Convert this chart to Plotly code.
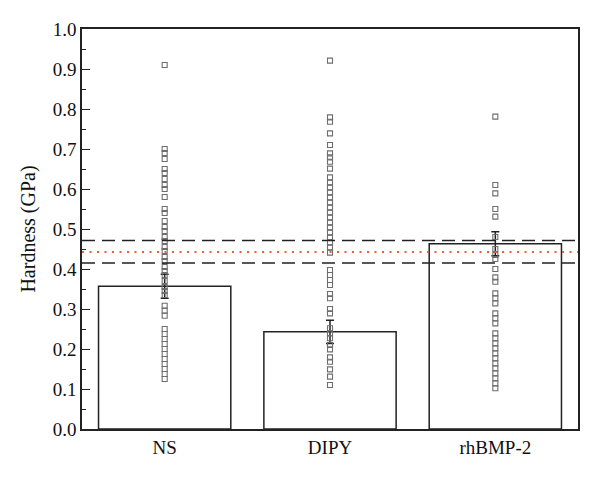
import plotly.graph_objects as go

categories = ["NS", "DIPY", "rhBMP-2"]
bar_means = [0.357, 0.243, 0.463]
bar_errors = [0.030, 0.029, 0.030]

ns_points = [0.91, 0.70, 0.69, 0.675, 0.65, 0.64, 0.625, 0.61, 0.60, 0.58, 0.55, 0.54,
             0.52, 0.505, 0.495, 0.48, 0.47, 0.455, 0.445, 0.43, 0.42, 0.405, 0.395, 0.385,
             0.37, 0.355, 0.345, 0.335, 0.308, 0.296, 0.283,
             0.25, 0.2375, 0.225, 0.2125, 0.20, 0.1875, 0.175, 0.1625, 0.15, 0.1375, 0.125]
dipy_points = [0.921, 0.779, 0.768, 0.739, 0.71, 0.689, 0.679, 0.668, 0.651,
               0.629, 0.616, 0.604, 0.591, 0.579, 0.566, 0.554, 0.541, 0.529, 0.516,
               0.504, 0.491, 0.479, 0.466, 0.454, 0.441,
               0.3975, 0.385, 0.3725, 0.36, 0.3375, 0.327, 0.30, 0.289,
               0.252, 0.239, 0.227, 0.21, 0.199, 0.179, 0.168, 0.149, 0.131, 0.11]
rhbmp_points = [0.781, 0.61, 0.589, 0.55, 0.531, 0.48, 0.45, 0.435, 0.425, 0.40,
                0.379, 0.368, 0.339, 0.327, 0.314, 0.289, 0.277, 0.264,
                0.239, 0.227, 0.214, 0.202, 0.189, 0.177, 0.164, 0.152, 0.139, 0.127,
                0.114, 0.102]
group_points = [ns_points, dipy_points, rhbmp_points]

dashed_levels = [0.471, 0.415]
dotted_level = 0.4425

y_ticks = [0.0, 0.1, 0.2, 0.3, 0.4, 0.5, 0.6, 0.7, 0.8, 0.9, 1.0]

fig = go.Figure()
fig.add_trace(go.Bar(
    x=categories, y=bar_means, width=0.8,
    marker=dict(color="white", line=dict(color="#222222", width=1.5)),
    error_y=dict(type="data", array=bar_errors, color="#222222", thickness=1.5, width=4),
    showlegend=False,
))
for cat, pts in zip(categories, group_points):
    fig.add_trace(go.Scatter(
        x=[cat] * len(pts), y=pts, mode="markers",
        marker=dict(symbol="square-open", size=5, color="#6e6e6e", line=dict(width=1.1, color="#6e6e6e")),
        showlegend=False,
    ))

for lvl in dashed_levels:
    fig.add_shape(type="line", xref="paper", x0=0, x1=1, yref="y", y0=lvl, y1=lvl,
                  line=dict(color="#222222", width=1.5, dash="13px,7px"), layer="above")
fig.add_shape(type="line", xref="paper", x0=0, x1=1, yref="y", y0=dotted_level, y1=dotted_level,
              line=dict(color="#f0602a", width=2, dash="2px,5.5px"), layer="above")

fig.update_layout(
    width=600, height=477,
    margin=dict(l=82, r=22, t=29, b=48),
    paper_bgcolor="white", plot_bgcolor="white",
    font=dict(family="Liberation Serif, Times New Roman, serif", size=18, color="#111111"),
    bargap=0.2,
)
fig.update_xaxes(
    range=[-0.5, 2.5], showline=True, linecolor="#222222", linewidth=1.5, mirror=True,
    ticks="", showgrid=False, tickfont=dict(size=19),
)
fig.update_yaxes(
    range=[0, 1], tickvals=y_ticks, tickformat=".1f",
    showline=True, linecolor="#222222", linewidth=1.5, mirror=True,
    ticks="inside", ticklen=8, tickwidth=1.2, tickcolor="#222222",
    minor=dict(ticks="inside", ticklen=4, dtick=0.05, tickwidth=1.2, tickcolor="#222222", showgrid=False),
    showgrid=False, zeroline=False, tickfont=dict(size=19),
    title=dict(text="Hardness (GPa)", font=dict(size=20), standoff=12),
)

fig.write_html("out.html")
